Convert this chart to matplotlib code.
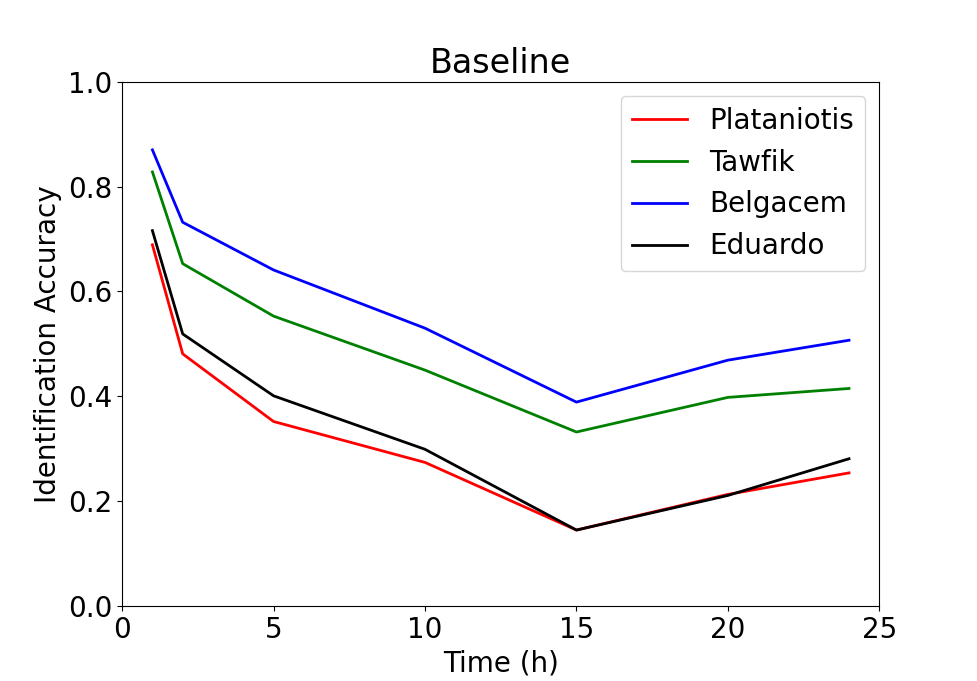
import matplotlib
matplotlib.use("Agg")
import matplotlib.pyplot as plt

# 时间点 (h)
hours = [1, 2, 5, 10, 15, 20, 24]

plataniotis = [0.689, 0.481, 0.352, 0.274, 0.145, 0.213, 0.254]
tawfik = [0.828, 0.653, 0.553, 0.450, 0.332, 0.398, 0.415]
belgacem = [0.870, 0.732, 0.641, 0.530, 0.389, 0.469, 0.507]
eduardo = [0.716, 0.519, 0.401, 0.299, 0.145, 0.211, 0.281]

plt.rcParams['font.size'] = 20

fig = plt.figure(figsize=(9.77, 6.81), dpi=100)
ax = fig.add_subplot(111)

ax.plot(hours, plataniotis, color='red', linewidth=2, label='Plataniotis')
ax.plot(hours, tawfik, color='green', linewidth=2, label='Tawfik')
ax.plot(hours, belgacem, color='blue', linewidth=2, label='Belgacem')
ax.plot(hours, eduardo, color='black', linewidth=2, label='Eduardo')

ax.set_xlim(0, 25)
ax.set_ylim(0, 1.0)
ax.set_xlabel('Time (h)')
ax.set_ylabel('Identification Accuracy')
ax.set_title('Baseline')
ax.legend(loc='upper right')

fig.savefig('out.png', dpi=100)
